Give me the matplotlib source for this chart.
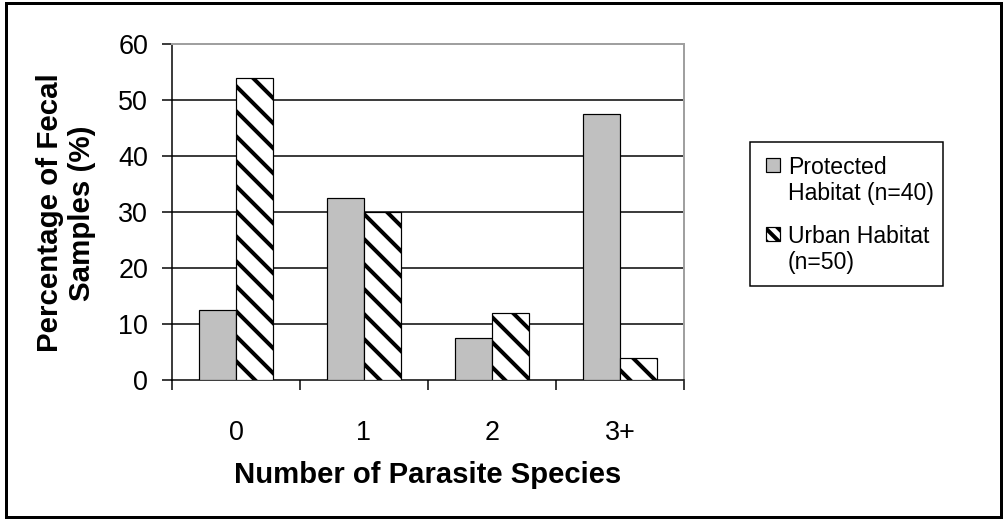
import matplotlib
matplotlib.use("Agg")
import matplotlib.pyplot as plt
from matplotlib.patches import Rectangle
import numpy as np

categories = ["0", "1", "2", "3+"]
protected = [12.5, 32.5, 7.5, 47.5]
urban = [54, 30, 12, 4]
series_labels = [["Protected", "Habitat (n=40)"], ["Urban Habitat", "(n=50)"]]
yticks = [0, 10, 20, 30, 40, 50, 60]

DPI = 75
W, H = 1005, 519
def pt(px):
    return px * 72.0 / DPI
def fx(px):
    return px / W
def fy(py):
    return 1 - py / H

plt.rcParams['font.family'] = ['Liberation Sans', 'DejaVu Sans']
plt.rcParams['hatch.linewidth'] = pt(4.0)
plt.rcParams['hatch.color'] = 'black'

fig = plt.figure(figsize=(W / DPI, H / DPI), dpi=DPI)
ax = fig.add_axes([fx(172), fy(380), fx(684) - fx(172), fy(44) - fy(380)])

x = np.arange(len(categories))
bw = 0.29
prot_style = dict(facecolor='#C0C0C0', edgecolor='black', linewidth=pt(1.2))
urb_style = dict(facecolor='white', edgecolor='black', linewidth=pt(1.2), hatch='\\')
ax.bar(x - bw / 2, protected, bw, zorder=3, **prot_style)
ax.bar(x + bw / 2, urban, bw, zorder=3, **urb_style)

ax.set_xlim(-0.5, len(categories) - 0.5)
ax.set_ylim(0, 60)
ax.set_yticks(yticks)
ax.set_yticklabels([str(v) for v in yticks], fontsize=pt(27))
for v in yticks[1:-1]:
    ax.axhline(v, color='black', linewidth=pt(1.5), zorder=1)

ax.tick_params(axis='y', direction='out', length=pt(10), width=pt(1.5), pad=pt(14))
ax.set_xticks(np.arange(len(categories) + 1) - 0.5)
ax.set_xticklabels([])
ax.set_xticks(x, minor=True)
ax.set_xticklabels(categories, minor=True, fontsize=pt(27))
ax.tick_params(axis='x', which='major', direction='out', length=pt(10), width=pt(1.5))
ax.tick_params(axis='x', which='minor', length=0, pad=pt(40))

for s in ['left', 'bottom']:
    ax.spines[s].set_color('black')
    ax.spines[s].set_linewidth(pt(1.5))
for s in ['top', 'right']:
    ax.spines[s].set_color('#A0A0A0')
    ax.spines[s].set_linewidth(pt(2))

fig.text(fx(428), fy(475), "Number of Parasite Species", ha='center', va='center',
         fontsize=pt(29.3), fontweight='bold')
fig.text(fx(66), fy(213), "Percentage of Fecal\nSamples (%)", ha='center', va='center',
         rotation=90, fontsize=pt(29.5), fontweight='bold', linespacing=1.15)

# legend drawn manually
fig.patches.append(Rectangle((fx(750), fy(286)), fx(943) - fx(750), fy(142) - fy(286),
                             transform=fig.transFigure, facecolor='white', edgecolor='black',
                             linewidth=pt(1.5)))
legend_styles = [prot_style, dict(urb_style, hatch='\\\\')]
for lines, style, ycen in zip(series_labels, legend_styles, [165, 234]):
    fig.patches.append(Rectangle((fx(766), fy(ycen + 7)), fx(14), fy(0) - fy(14),
                                 transform=fig.transFigure, **style))
    for i, t in enumerate(lines):
        fig.text(fx(788), fy(ycen + i * 26), t, ha='left', va='center_baseline',
                 fontsize=pt(23))

fig.patches.append(Rectangle((fx(6), fy(517)), fx(1001) - fx(6), fy(3) - fy(517),
                             transform=fig.transFigure, fill=False, edgecolor='black',
                             linewidth=pt(3)))

fig.savefig("out.png", dpi=DPI)
